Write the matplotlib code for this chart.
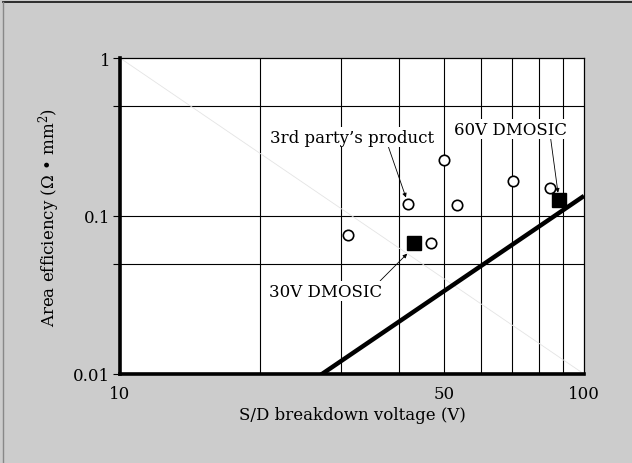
import numpy as np
import matplotlib
matplotlib.use("Agg")
import matplotlib.pyplot as plt
from matplotlib.lines import Line2D

# Data
third_party_v = [31.0, 41.8, 46.8, 50.0, 53.2, 70.4, 84.3]
third_party_r = [0.076, 0.119, 0.0675, 0.225, 0.117, 0.166, 0.150]
dmos_v = [43.1, 88.3]
dmos_r = [0.0675, 0.127]
limit_v = [26.7, 100]
limit_r = [0.0096, 0.134]
diag_v = [10, 100]
diag_r = [1, 0.01]
x_grid = [20, 30, 40, 50, 60, 70, 80, 90]
y_grid = [0.5, 0.1, 0.05]
x_ticks = [10, 50, 100]
x_ticklabels = ["10", "50", "100"]
y_ticks = [0.01, 0.1, 1]
y_ticklabels = ["0.01", "0.1", "1"]
y_minor = [0.05, 0.5]

plt.rcParams['font.family'] = ['DejaVu Serif']
plt.rcParams['mathtext.fontset'] = 'dejavuserif'

fig = plt.figure(figsize=(6.32, 4.64), dpi=100)
fig.patch.set_facecolor('#cccccc')
# frame lines at top and left of the figure
fig.add_artist(Line2D([3/632, 1], [1-2.5/464, 1-2.5/464], transform=fig.transFigure,
                      color='#111111', lw=1.2))
fig.add_artist(Line2D([3/632, 3/632], [0, 1-2.5/464], transform=fig.transFigure,
                      color='#888888', lw=1.0))

ax = fig.add_axes([120/632, 1-375/464, 464/632, 316/464])
ax.set_facecolor('white')
ax.set_xscale('log')
ax.set_yscale('log')
ax.set_xlim(10, 100)
ax.set_ylim(0.01, 1)

for xv in x_grid:
    ax.axvline(xv, color='black', lw=0.8, zorder=1)
for yv in y_grid:
    ax.axhline(yv, color='black', lw=0.8, zorder=1)

ax.plot(diag_v, diag_r, color='#e4e4e4', lw=0.6, zorder=1)
ax.plot(limit_v, limit_r, color='black', lw=3.2, zorder=3, solid_capstyle='butt')

ax.plot(third_party_v, third_party_r, linestyle='none', marker='o', ms=7.5,
        mfc='white', mec='black', mew=1.2, zorder=4)
ax.plot(dmos_v, dmos_r, linestyle='none', marker='s', ms=10,
        mfc='black', mec='black', zorder=4)

tb = dict(boxstyle='square,pad=0.1', fc='white', ec='none')

def ap(rx, ry):
    return dict(arrowstyle='-|>', color='black', lw=0.6, mutation_scale=6,
                shrinkA=0, shrinkB=5, relpos=(rx, ry))

ax.annotate("3rd party\u2019s product", xy=(41.8, 0.119), xytext=(31.6, 0.316),
            ha='center', va='center', fontsize=12, bbox=tb, arrowprops=ap(0.72, 0.0), zorder=5)
ax.annotate("60V DMOSIC", xy=(88.3, 0.127), xytext=(69.6, 0.355),
            ha='center', va='center', fontsize=12, bbox=tb, arrowprops=ap(0.85, 0.0), zorder=5)
ax.annotate("30V DMOSIC", xy=(42.6, 0.062), xytext=(27.7, 0.0335),
            ha='center', va='center', fontsize=12, bbox=tb, arrowprops=ap(0.97, 1.0), zorder=5)

ax.set_xticks(x_ticks)
ax.set_xticklabels(x_ticklabels)
ax.set_yticks(y_ticks)
ax.set_yticklabels(y_ticklabels)
ax.xaxis.set_minor_locator(matplotlib.ticker.NullLocator())
ax.yaxis.set_minor_locator(matplotlib.ticker.FixedLocator(y_minor))
ax.yaxis.set_minor_formatter(matplotlib.ticker.NullFormatter())
ax.tick_params(axis='x', length=0, labelsize=12, pad=8)
ax.tick_params(axis='y', which='both', length=5, width=0.8, direction='out', labelsize=12, pad=2)

for s in ['top', 'right']:
    ax.spines[s].set_linewidth(0.9)
for s in ['left', 'bottom']:
    ax.spines[s].set_linewidth(2.6)
for s in ax.spines.values():
    s.set_zorder(6)

ax.set_xlabel("S/D breakdown voltage (V)", fontsize=12, labelpad=3)
ax.set_ylabel("Area efficiency (\u03a9 \u2022 mm$^2$)", fontsize=12, labelpad=8)

fig.savefig("out.png", dpi=100, facecolor=fig.get_facecolor())
